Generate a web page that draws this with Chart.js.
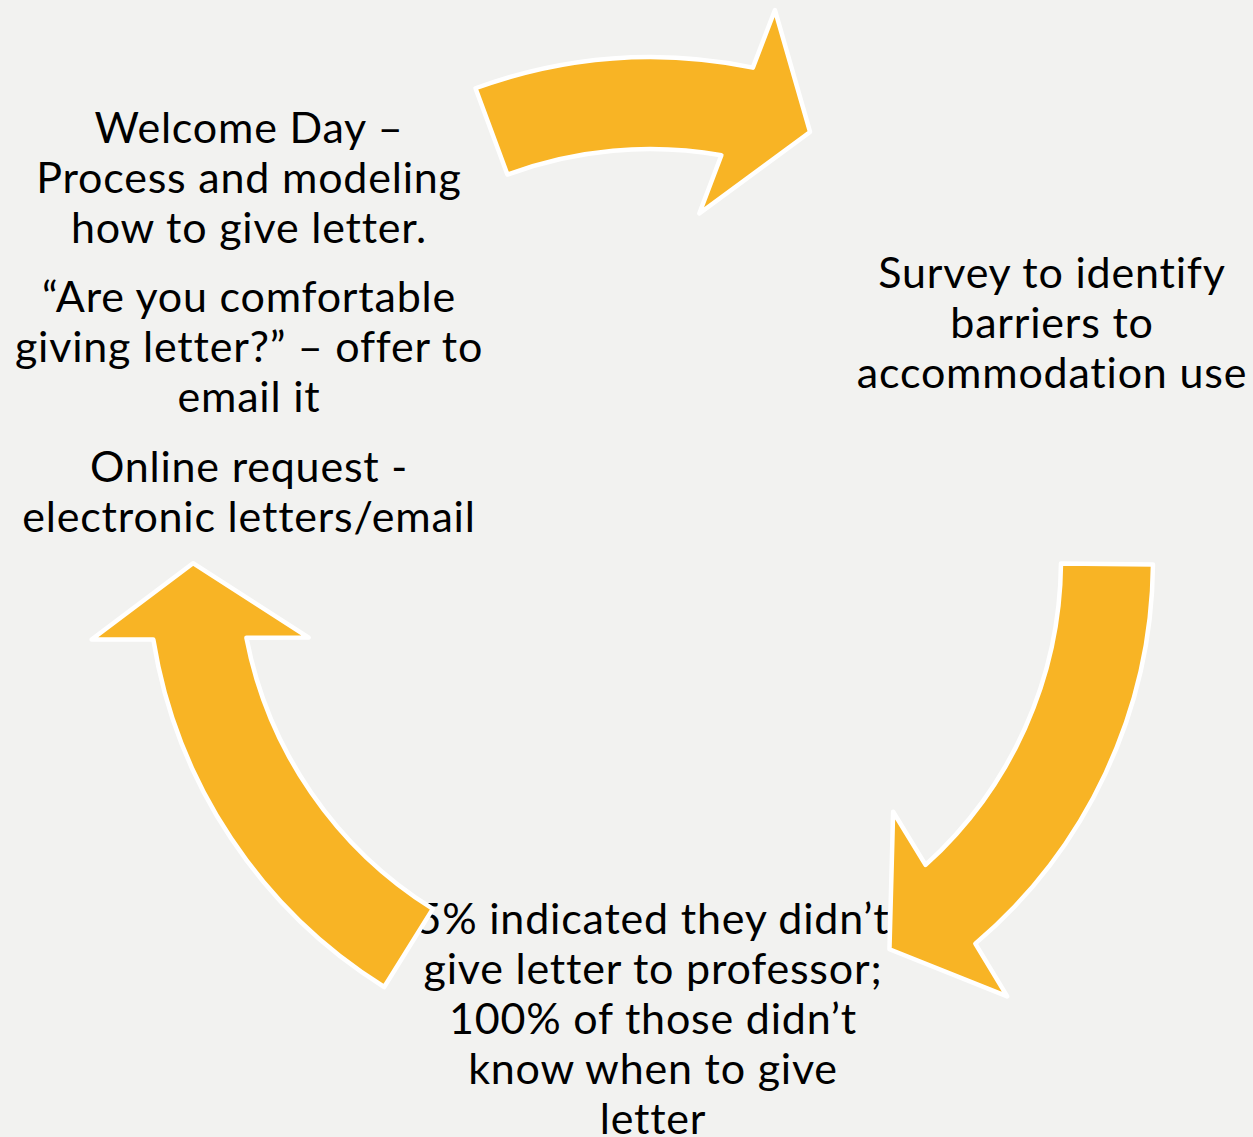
<!DOCTYPE html>
<html>
<head>
<meta charset="utf-8">
<script src="https://cdn.jsdelivr.net/npm/chart.js@4.4.1/dist/chart.umd.min.js"></script>
<style>
  html, body { margin: 0; padding: 0; background: #f2f2f0; overflow: hidden; }
  #wrap { position: relative; width: 1253px; height: 1137px; }
  #wrap canvas { position: absolute; left: 0; top: 0; z-index: 2; }
  .txt {
    position: absolute; z-index: 1; text-align: center; color: #000;
    font-family: Lato, "Open Sans", sans-serif; font-size: 43px; line-height: 50px;
    letter-spacing: 0.8px; font-variant-ligatures: none;
    white-space: nowrap; transform: translateX(-50%);
  }
</style>
</head>
<body>
<div id="wrap">
  <canvas id="cycle" width="1253" height="1137"></canvas>
</div>
<script>
// three steps of the cycle, clockwise from the top arrow
var stepNames = ['Survey', 'Results', 'Changes'];
// angular length of each arrow body and the gap after it (degrees)
var arcDegrees = [31.3, 48.4, 48.2];
var gapDegrees = [79.5, 73.0, 79.6];
var startDegree = -20.3;

// text blocks, one line per entry
var surveyLines = ['Survey to identify', 'barriers to', 'accommodation use'];
var resultLines = ['5% indicated they didn\u2019t', 'give letter to professor;', '100% of those didn\u2019t', 'know when to give', 'letter'];
var changeParagraphs = [
  ['Welcome Day \u2013', 'Process and modeling', 'how to give letter.'],
  ['\u201cAre you comfortable', 'giving letter?\u201d \u2013 offer to', 'email it'],
  ['Online request -', 'electronic letters/email']
];

// text placement (centre x, top y)
var wrap = document.getElementById('wrap');
function addBlock(lines, cx, top) {
  var d = document.createElement('div');
  d.className = 'txt';
  d.style.left = cx + 'px';
  d.style.top = top + 'px';
  d.innerHTML = lines.join('<br>');
  wrap.appendChild(d);
}
addBlock(surveyLines, 1052, 247);
addBlock(resultLines, 653, 893);
var changeTops = [102, 271, 441];
for (let i = 0; i < changeParagraphs.length; i++) {
  addBlock(changeParagraphs[i], 249, changeTops[i]);
}

var yellow = '#f8b425';
var data = [], colors = [], labels = [], isArrow = [];
for (let i = 0; i < arcDegrees.length; i++) {
  data.push(arcDegrees[i]); colors.push(yellow); labels.push(stepNames[i]); isArrow.push(true);
  data.push(gapDegrees[i]); colors.push('rgba(0,0,0,0)'); labels.push(''); isArrow.push(false);
}

var outerR = 503, innerR = 411;
var headOut = 107;      // how far the head sticks out from the middle of the band
var headAngle = 9.5;    // angular length of the head, degrees
// the head base is a bit slanted, not exactly radial
var skew = { bodyOut: 0.8, bodyIn: -1.0, headOut: 1.8, headIn: -2.9 };
var deg = Math.PI / 180;

// draws the arrow heads and white outline on top of each arc
var arrowPlugin = {
  id: 'arrowHeads',
  afterDatasetsDraw(chart) {
    const ctx = chart.ctx;
    const meta = chart.getDatasetMeta(0);
    meta.data.forEach((arc, i) => {
      if (!isArrow[i]) return;
      const p = arc.getProps(['x', 'y', 'startAngle', 'endAngle', 'innerRadius', 'outerRadius']);
      const mid = (p.innerRadius + p.outerRadius) / 2;
      const a = p.endAngle;
      const pt = (r, ang) => [p.x + r * Math.cos(ang), p.y + r * Math.sin(ang)];
      ctx.save();
      ctx.beginPath();
      ctx.arc(p.x, p.y, p.outerRadius, p.startAngle, a + skew.bodyOut * deg);
      ctx.lineTo(...pt(mid + headOut, a + skew.headOut * deg));
      ctx.lineTo(...pt(mid, a + headAngle * deg));
      ctx.lineTo(...pt(mid - headOut, a + skew.headIn * deg));
      ctx.lineTo(...pt(p.innerRadius, a + skew.bodyIn * deg));
      ctx.arc(p.x, p.y, p.innerRadius, a + skew.bodyIn * deg, p.startAngle, true);
      ctx.closePath();
      ctx.fillStyle = yellow;
      ctx.fill();
      ctx.lineWidth = 4.5;
      ctx.lineJoin = 'round';
      ctx.strokeStyle = '#ffffff';
      ctx.stroke();
      ctx.restore();
    });
  }
};

new Chart(document.getElementById('cycle'), {
  type: 'doughnut',
  data: {
    labels: labels,
    datasets: [{
      data: data,
      backgroundColor: colors,
      borderWidth: 0
    }]
  },
  options: {
    responsive: false,
    animation: false,
    rotation: startDegree,
    circumference: 360,
    radius: outerR,
    cutout: (innerR / outerR * 100) + '%',
    layout: { padding: { left: 47, right: 0, top: 0, bottom: 17 } },
    plugins: {
      legend: { display: false },
      tooltip: { enabled: false }
    },
    events: []
  },
  plugins: [arrowPlugin]
});
</script>
</body>
</html>
